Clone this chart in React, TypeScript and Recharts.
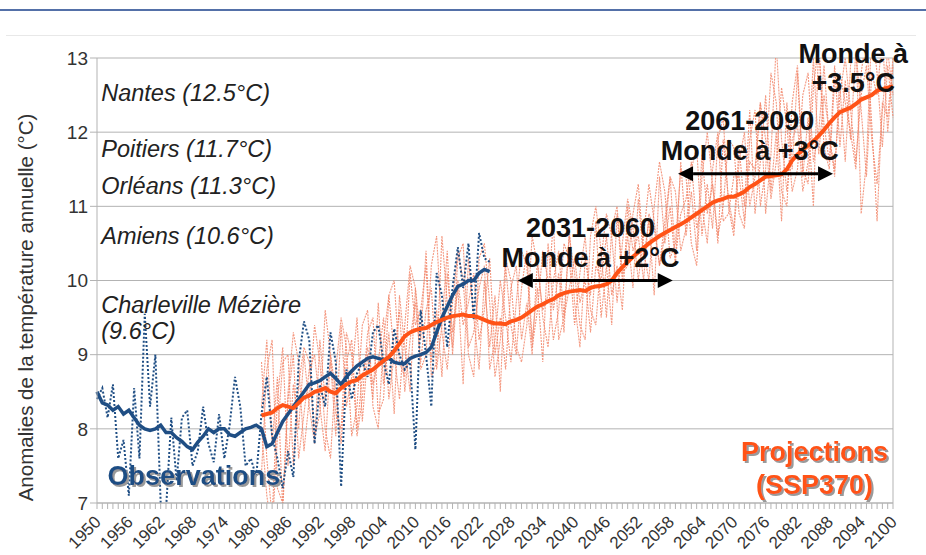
import { CartesianGrid, Line, LineChart, ReferenceDot, ReferenceLine, XAxis, YAxis } from 'recharts'

const obsStart = 1950
const projStart = 1981

// observations, annual values (1950-2024)
const obsAnnual = [
  8.4, 8.55, 8.15, 8.6, 7.6, 7.85, 7.1, 8.55, 7.6, 9.55,
  8.3, 9.0, 7.0, 6.9, 8.15, 7.3, 8.15, 8.25, 7.5, 7.7,
  8.3, 7.8, 7.55, 8.2, 7.6, 8.05, 8.7, 8.3, 7.5, 7.6,
  7.35, 8.2, 8.7, 7.9, 7.6, 7.2, 7.7, 7.35, 8.9, 9.45,
  9.2, 7.8, 8.6, 8.3, 9.3, 8.9, 7.22, 8.8, 8.4, 8.75,
  8.9, 8.7, 9.3, 9.4, 8.9, 8.6, 9.35, 9.0, 8.8, 8.9,
  7.72, 9.6, 9.0, 8.3, 10.1, 9.8, 9.1, 9.9, 10.45, 9.9,
  10.5, 9.47, 10.64, 10.3, 10.25,
]

// observations, smoothed
const obsSmooth = [
  8.5, 8.35, 8.32, 8.25, 8.3, 8.2, 8.25, 8.15, 8.05, 8.0,
  7.98, 8.0, 8.05, 7.95, 7.95, 7.88, 7.83, 7.76, 7.72, 7.82,
  7.9, 8.0, 7.95, 8.0, 8.0, 7.92, 7.9, 7.95, 8.0, 8.02,
  8.05, 8.0, 7.76, 7.8, 7.95, 8.1, 8.2, 8.3, 8.4, 8.5,
  8.6, 8.62, 8.65, 8.7, 8.75, 8.68, 8.6, 8.7, 8.78, 8.85,
  8.9, 8.95, 8.97, 8.95, 8.93, 8.95, 8.9, 8.88, 8.88, 8.95,
  8.98, 9.0, 9.03, 9.1, 9.3, 9.5, 9.65, 9.8, 9.92, 9.95,
  10.0, 10.0, 10.1, 10.15, 10.12,
]

// SSP370 projection, multi-model smoothed (1981-2100)
const projMean = [
  8.18, 8.2, 8.22, 8.28, 8.32, 8.3, 8.28, 8.35, 8.42, 8.45,
  8.5, 8.52, 8.55, 8.5, 8.48, 8.55, 8.6, 8.64, 8.66, 8.72,
  8.76, 8.8, 8.86, 8.92, 8.97, 9.05, 9.15, 9.25, 9.3, 9.33,
  9.35, 9.36, 9.4, 9.44, 9.47, 9.5, 9.52, 9.53, 9.54, 9.52,
  9.52, 9.5, 9.47, 9.44, 9.42, 9.42, 9.41, 9.45, 9.47, 9.5,
  9.55, 9.6, 9.65, 9.68, 9.72, 9.75, 9.8, 9.83, 9.85, 9.86,
  9.87, 9.86, 9.9, 9.92, 9.93, 9.95, 10.0, 10.1, 10.18, 10.25,
  10.32, 10.38, 10.44, 10.5, 10.55, 10.6, 10.64, 10.68, 10.72, 10.76,
  10.8, 10.85, 10.9, 10.95, 11.0, 11.05, 11.08, 11.1, 11.13, 11.13,
  11.16, 11.2, 11.26, 11.3, 11.35, 11.4, 11.41, 11.42, 11.43, 11.5,
  11.62, 11.7, 11.76, 11.82, 11.88, 11.95, 12.03, 12.12, 12.2, 12.27,
  12.3, 12.33, 12.38, 12.44, 12.47, 12.5, 12.56, 12.58, 12.6, 12.62,
]

// individual model runs (1981-2100)
const modelA = [
  8.9, 7.6, 6.8, 8.4, 9.1, 7.5, 8.6, 8.0, 9.0, 8.3,
  7.8, 9.2, 8.4, 8.9, 7.9, 9.4, 8.3, 8.7, 9.5, 8.1,
  9.0, 8.4, 9.7, 8.6, 9.3, 8.2, 9.8, 9.1, 8.5, 9.9,
  9.2, 10.4, 8.9, 9.6, 8.7, 10.1, 9.3, 9.9, 8.6, 10.3,
  9.5, 8.8, 10.0, 9.1, 9.8, 8.5, 10.2, 9.4, 9.0, 9.9,
  10.4, 9.2, 9.9, 8.9, 10.5, 9.6, 10.1, 9.3, 10.7, 9.7,
  9.1, 10.3, 9.8, 10.8, 9.5, 10.2, 9.4, 10.9, 10.0, 10.6,
  9.9, 11.1, 10.3, 10.8, 9.8, 11.4, 10.5, 11.0, 10.2, 11.6,
  10.6, 11.2, 10.4, 11.7, 10.9, 11.3, 10.5, 11.9, 11.1, 10.7,
  11.8, 11.0, 12.3, 10.9, 11.6, 12.5, 11.2, 12.0, 10.8, 12.4,
  11.5, 12.8, 11.4, 12.2, 11.0, 13.2, 12.1, 11.6, 12.9, 11.8,
  12.7, 11.9, 13.1, 12.3, 11.4, 12.8, 12.5, 13.3, 12.0, 12.9,
]
const modelB = [
  7.4, 8.8, 9.2, 7.2, 7.0, 8.5, 9.3, 8.9, 7.7, 8.4,
  9.4, 8.9, 8.0, 7.6, 8.8, 9.5, 9.1, 7.9, 8.3, 9.4,
  9.6, 8.3, 8.0, 9.2, 9.8, 9.0, 8.4, 9.4, 10.2, 9.9,
  8.8, 9.0, 10.2, 10.6, 9.3, 8.8, 9.7, 10.4, 10.0, 9.0,
  8.7, 10.3, 10.5, 9.7, 8.7, 9.2, 10.3, 10.0, 9.1, 8.9,
  9.4, 10.6, 10.2, 9.6, 9.8, 10.8, 9.2, 9.5, 10.6, 10.1,
  9.4, 9.2, 10.6, 11.0, 10.4, 9.5, 10.7, 11.0, 10.1, 10.2,
  10.9, 11.3, 10.4, 10.0, 11.0, 11.6, 11.2, 10.3, 10.5, 11.5,
  11.4, 10.5, 10.2, 11.4, 12.0, 11.3, 10.6, 11.0, 11.9, 11.8,
  10.9, 10.7, 11.9, 12.3, 11.0, 11.5, 12.8, 12.4, 11.2, 11.0,
  12.4, 12.9, 11.5, 11.3, 12.6, 13.2, 11.8, 11.5, 12.7, 12.6,
  11.6, 12.9, 13.3, 10.9, 11.6, 13.4, 12.8, 11.8, 12.9, 12.2,
]
const modelC = [
  8.3, 9.2, 7.8, 8.7, 6.9, 8.4, 9.0, 7.6, 8.2, 8.8,
  9.0, 8.3, 7.7, 9.0, 8.5, 7.8, 8.9, 9.2, 8.0, 8.7,
  9.1, 8.6, 8.9, 9.5, 8.4, 9.0, 9.6, 8.5, 9.2, 9.7,
  8.9, 9.6, 9.9, 8.8, 9.4, 10.4, 9.0, 10.0, 9.4, 9.7,
  10.1, 9.2, 9.6, 10.3, 9.0, 9.5, 8.8, 9.9, 10.2, 9.2,
  9.7, 9.0, 10.3, 9.5, 9.1, 10.0, 10.4, 9.5, 9.9, 10.3,
  9.7, 10.0, 9.3, 10.2, 10.0, 10.6, 9.8, 10.2, 9.6, 11.0,
  10.4, 10.6, 10.0, 10.9, 10.7, 10.2, 10.8, 11.4, 10.3, 10.9,
  11.1, 11.6, 10.7, 11.0, 10.5, 11.5, 12.0, 10.8, 10.9, 11.4,
  11.4, 10.8, 11.6, 11.5, 12.4, 10.9, 11.7, 13.2, 11.9, 11.2,
  11.9, 12.1, 11.2, 11.6, 13.0, 11.7, 12.5, 12.0, 11.4, 12.8,
  12.4, 12.0, 11.5, 12.8, 13.3, 12.1, 10.8, 12.4, 12.2, 13.0,
]
const modelD = [
  8.0, 7.1, 6.6, 7.9, 8.9, 9.0, 7.5, 8.6, 9.1, 8.9,
  7.9, 8.2, 9.6, 9.0, 8.2, 8.0, 9.3, 9.0, 7.9, 8.4,
  9.3, 9.5, 8.2, 8.4, 9.8, 10.0, 8.9, 8.7, 10.1, 9.4,
  9.6, 10.2, 8.7, 8.9, 10.6, 9.7, 9.1, 10.3, 10.5, 9.1,
  9.3, 9.9, 10.2, 8.8, 9.2, 10.0, 9.5, 8.9, 9.7, 10.4,
  10.2, 9.1, 9.6, 10.4, 10.0, 9.2, 9.6, 10.5, 10.3, 9.4,
  10.1, 10.6, 9.6, 9.4, 10.3, 10.9, 10.6, 9.7, 10.5, 11.1,
  10.7, 10.0, 10.6, 11.3, 10.8, 10.2, 10.6, 11.4, 11.2, 10.4,
  10.7, 11.5, 11.8, 10.6, 11.3, 10.7, 11.9, 12.2, 11.0, 10.6,
  11.6, 12.0, 11.0, 11.4, 12.4, 11.9, 11.1, 11.6, 12.6, 12.1,
  11.2, 11.5, 12.5, 12.8, 11.6, 12.0, 12.9, 11.9, 11.5, 12.5,
  13.0, 12.3, 11.6, 12.5, 12.9, 11.9, 11.3, 12.3, 13.1, 12.5,
]

const yTicks = [7, 8, 9, 10, 11, 12, 13]
const years = Array.from({ length: 151 }, (_, i) => 1950 + i)

// regional reference temperatures written on the left
const cities = [
  { label: 'Nantes (12.5°C)', value: 12.53 },
  { label: 'Poitiers (11.7°C)', value: 11.77 },
  { label: 'Orléans (11.3°C)', value: 11.27 },
  { label: 'Amiens (10.6°C)', value: 10.6 },
  { label: 'Charleville Mézière', value: 9.67 },
  { label: '(9.6°C)', value: 9.32 },
]

const periods = [
  { from: 2029.3, to: 2058.5, y: 10.0, title: '2031-2060', sub: 'Monde à +2°C', center: 2043 },
  { from: 2059.5, to: 2088.7, y: 11.44, title: '2061-2090', sub: 'Monde à +3°C', center: 2073 },
]

const at = (arr: number[], start: number, year: number) => {
  const i = year - start
  return i >= 0 && i < arr.length ? arr[i] : undefined
}

const data = years.map((year) => ({
  year,
  obsAnnual: at(obsAnnual, obsStart, year),
  obsSmooth: at(obsSmooth, obsStart, year),
  modelA: at(modelA, projStart, year),
  modelB: at(modelB, projStart, year),
  modelC: at(modelC, projStart, year),
  modelD: at(modelD, projStart, year),
  projMean: at(projMean, projStart, year),
}))

const XTick = ({ x, y, payload }: any) => {
  const yr = payload.value
  return (
    <g>
      <line x1={x} x2={x} y1={y} y2={y + 6} stroke="#b3b3b3" />
      {(yr - 1950) % 6 === 0 && (
        <text x={x + 5} y={y + 20} textAnchor="end" fontSize={17} fill="#333" transform={`rotate(-45 ${x + 5} ${y + 20})`}>
          {yr}
        </text>
      )}
    </g>
  )
}

let filterId = 0
const textAt = (lines: { text: string; dy: number }[], opts: any) => (props: any) => {
  const vb = props.viewBox
  const cx = vb.x + vb.width / 2
  const cy = vb.y + vb.height / 2
  const fid = `shadow${filterId++}`
  return (
    <g>
      {opts.shadow && (
        <defs>
          <filter id={fid} x="-10%" y="-30%" width="120%" height="160%">
            <feDropShadow dx={2} dy={2} stdDeviation={0.6} floodColor={opts.shadow} />
          </filter>
        </defs>
      )}
      {lines.map((l, i) => (
        <text key={i} x={cx} y={cy + l.dy} textAnchor={opts.anchor} dominantBaseline="central" fontSize={opts.size}
          fontWeight={opts.weight} fontStyle={opts.style} fill={opts.color} filter={opts.shadow ? `url(#${fid})` : undefined}>
          {l.text}
        </text>
      ))}
    </g>
  )
}

const Arrow = (p: any) => {
  const { x1, y1, x2 } = p
  const h = 15
  return (
    <g>
      <line x1={x1 + h} x2={x2 - h} y1={y1} y2={y1} stroke="#000" strokeWidth={3} />
      <polygon points={`${x1},${y1} ${x1 + h},${y1 - 7.5} ${x1 + h},${y1 + 7.5}`} fill="#000" />
      <polygon points={`${x2},${y1} ${x2 - h},${y1 - 7.5} ${x2 - h},${y1 + 7.5}`} fill="#000" />
    </g>
  )
}

const thin = { stroke: '#f2866a', strokeWidth: 1.1, strokeDasharray: '2 1', strokeOpacity: 0.85 }

export default function App() {
  return (
    <div style={{ position: 'absolute', left: 0, top: 0, width: 926, height: 555, background: '#fff', fontFamily: '"Liberation Sans", Arial, sans-serif' }}>
      <div style={{ position: 'absolute', left: 0, top: 9, width: 926, height: 2, background: '#5470a8' }} />
      <div style={{ position: 'absolute', left: 6, top: 35, width: 910, height: 1, background: '#e8e8e8' }} />
      <LineChart width={926} height={555} data={data} margin={{ top: 58, right: 33, bottom: 0, left: 0 }}>
        <CartesianGrid stroke="#b3b3b3" vertical={false} />
        <XAxis
          dataKey="year"
          type="number"
          domain={[1950, 2100]}
          ticks={years}
          interval={0}
          height={52}
          tickSize={0}
          tickMargin={0}
          tick={<XTick />}
          axisLine={{ stroke: '#b3b3b3' }}
        />
        <YAxis
          type="number"
          domain={[7, 13]}
          ticks={yTicks}
          allowDataOverflow
          width={97}
          tickSize={7}
          tickLine={{ stroke: '#b3b3b3' }}
          axisLine={{ stroke: '#b3b3b3' }}
          tick={{ fontSize: 19, fill: '#333' }}
          label={{
            content: (props: any) => {
              const vb = props.viewBox
              const cx = 25
              const cy = vb.y + vb.height / 2 + 27
              return (
                <text x={cx} y={cy} textAnchor="middle" dominantBaseline="central" fontSize={20.5} fill="#333"
                  transform={`rotate(-90 ${cx} ${cy})`}>
                  Anomalies de la température annuelle (°C)
                </text>
              )
            },
          }}
        />
        <ReferenceLine x={2100} stroke="#b3b3b3" />

        <Line dataKey="modelA" dot={false} activeDot={false} isAnimationActive={false} {...thin} />
        <Line dataKey="modelB" dot={false} activeDot={false} isAnimationActive={false} {...thin} />
        <Line dataKey="modelC" dot={false} activeDot={false} isAnimationActive={false} {...thin} />
        <Line dataKey="modelD" dot={false} activeDot={false} isAnimationActive={false} {...thin} />
        <Line dataKey="obsAnnual" dot={false} activeDot={false} isAnimationActive={false} stroke="#1f4e84" strokeWidth={2} strokeDasharray="2 2" />
        <Line dataKey="obsSmooth" dot={false} activeDot={false} isAnimationActive={false} stroke="#1f4e84" strokeWidth={3.5} />
        <Line dataKey="projMean" dot={false} activeDot={false} isAnimationActive={false} stroke="#ff5317" strokeWidth={4} />

        {cities.map((c) => (
          <ReferenceDot key={c.label} x={1950.8} y={c.value} r={0} fill="none" stroke="none"
            label={textAt([{ text: c.label, dy: 0 }], { anchor: 'start', size: 23.5, style: 'italic', color: '#222' })} />
        ))}

        {periods.map((p) => (
          <ReferenceLine key={p.title} segment={[{ x: p.from, y: p.y }, { x: p.to, y: p.y }]} shape={Arrow} ifOverflow="visible" />
        ))}
        {periods.map((p) => (
          <ReferenceDot key={p.title + 't'} x={p.center} y={p.y} r={0} fill="none" stroke="none"
            label={textAt([{ text: p.title, dy: -53 }, { text: p.sub, dy: -23 }], { anchor: 'middle', size: 27, weight: 'bold', color: '#111' })} />
        ))}
        <ReferenceDot x={2092.5} y={12.66} r={0} fill="none" stroke="none" ifOverflow="visible"
          label={textAt([{ text: 'Monde à', dy: -29 }, { text: '+3.5°C', dy: 0 }], { anchor: 'middle', size: 27, weight: 'bold', color: '#111' })} />

        <ReferenceDot x={1952} y={7.36} r={0} fill="none" stroke="none"
          label={textAt([{ text: 'Observations', dy: 0 }], { anchor: 'start', size: 27, weight: 'bold', color: '#1f4e84', shadow: '#9a9a9a' })} />
        <ReferenceDot x={2085.2} y={7.46} r={0} fill="none" stroke="none"
          label={textAt([{ text: 'Projections', dy: -17 }, { text: '(SSP370)', dy: 16 }], { anchor: 'middle', size: 27, weight: 'bold', color: '#ff5317', shadow: '#9a9a9a' })} />
      </LineChart>
    </div>
  )
}
